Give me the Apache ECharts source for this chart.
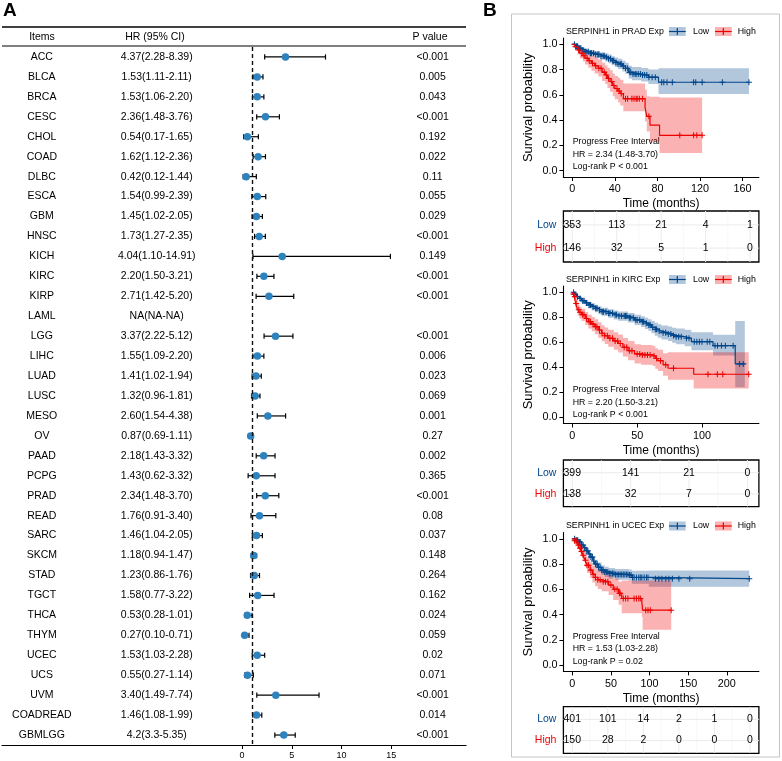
<!DOCTYPE html>
<html><head><meta charset="utf-8">
<script src="https://cdn.jsdelivr.net/npm/echarts@6/dist/echarts.min.js"></script>
<style>html,body{margin:0;padding:0;background:#fff}#c{width:782px;height:761px}</style>
</head><body><div id="c"></div>
<script>
// ---------------- Panel A data ----------------
const items = ['ACC','BLCA','BRCA','CESC','CHOL','COAD','DLBC','ESCA','GBM','HNSC','KICH','KIRC','KIRP','LAML','LGG','LIHC','LUAD','LUSC','MESO','OV','PAAD','PCPG','PRAD','READ','SARC','SKCM','STAD','TGCT','THCA','THYM','UCEC','UCS','UVM','COADREAD','GBMLGG'];
const hrText = ['4.37(2.28-8.39)','1.53(1.11-2.11)','1.53(1.06-2.20)','2.36(1.48-3.76)','0.54(0.17-1.65)','1.62(1.12-2.36)','0.42(0.12-1.44)','1.54(0.99-2.39)','1.45(1.02-2.05)','1.73(1.27-2.35)','4.04(1.10-14.91)','2.20(1.50-3.21)','2.71(1.42-5.20)','NA(NA-NA)','3.37(2.22-5.12)','1.55(1.09-2.20)','1.41(1.02-1.94)','1.32(0.96-1.81)','2.60(1.54-4.38)','0.87(0.69-1.11)','2.18(1.43-3.32)','1.43(0.62-3.32)','2.34(1.48-3.70)','1.76(0.91-3.40)','1.46(1.04-2.05)','1.18(0.94-1.47)','1.23(0.86-1.76)','1.58(0.77-3.22)','0.53(0.28-1.01)','0.27(0.10-0.71)','1.53(1.03-2.28)','0.55(0.27-1.14)','3.40(1.49-7.74)','1.46(1.08-1.99)','4.2(3.3-5.35)'];
const hr = [4.37,1.53,1.53,2.36,0.54,1.62,0.42,1.54,1.45,1.73,4.04,2.20,2.71,null,3.37,1.55,1.41,1.32,2.60,0.87,2.18,1.43,2.34,1.76,1.46,1.18,1.23,1.58,0.53,0.27,1.53,0.55,3.40,1.46,4.2];
const hrLow = [2.28,1.11,1.06,1.48,0.17,1.12,0.12,0.99,1.02,1.27,1.10,1.50,1.42,null,2.22,1.09,1.02,0.96,1.54,0.69,1.43,0.62,1.48,0.91,1.04,0.94,0.86,0.77,0.28,0.10,1.03,0.27,1.49,1.08,3.3];
const hrHigh = [8.39,2.11,2.20,3.76,1.65,2.36,1.44,2.39,2.05,2.35,14.91,3.21,5.20,null,5.12,2.20,1.94,1.81,4.38,1.11,3.32,3.32,3.70,3.40,2.05,1.47,1.76,3.22,1.01,0.71,2.28,1.14,7.74,1.99,5.35];
const pText = ['<0.001','0.005','0.043','<0.001','0.192','0.022','0.11','0.055','0.029','<0.001','0.149','<0.001','<0.001','','<0.001','0.006','0.023','0.069','0.001','0.27','0.002','0.365','<0.001','0.08','0.037','0.148','0.264','0.162','0.024','0.059','0.02','0.071','<0.001','0.014','<0.001'];
const forestTicks = [0,5,10,15];
const headers = ['Items','HR (95% CI)','P value'];

// ---------------- Panel B data: [time, survival, lower, upper] ----------------
const pradLow = [[0,1,1,1],[3,0.985,0.97,1],[6,0.968,0.95,0.985],[9,0.955,0.935,0.975],[12,0.942,0.92,0.965],[16,0.93,0.905,0.955],[21,0.92,0.893,0.948],[26,0.908,0.878,0.938],[31,0.897,0.865,0.93],[34,0.885,0.85,0.92],[37,0.87,0.835,0.905],[40,0.857,0.82,0.895],[43,0.844,0.805,0.885],[47,0.828,0.785,0.87],[50,0.81,0.765,0.855],[53,0.778,0.73,0.83],[56,0.765,0.715,0.82],[65,0.757,0.705,0.812],[71.5,0.74,0.685,0.80],[81,0.70,0.607,0.81],[166,0.70,0.607,0.81]];
const pradHigh = [[0,1,1,1],[2.5,0.98,0.955,1],[5,0.955,0.92,0.99],[7,0.93,0.89,0.97],[10,0.91,0.865,0.955],[12,0.89,0.84,0.94],[15,0.87,0.815,0.925],[18,0.85,0.79,0.91],[21,0.83,0.77,0.895],[24.5,0.81,0.745,0.88],[28,0.78,0.71,0.855],[31,0.757,0.685,0.835],[33,0.73,0.655,0.815],[35.5,0.705,0.625,0.795],[38,0.675,0.59,0.77],[40,0.65,0.565,0.75],[43,0.63,0.54,0.735],[45,0.61,0.515,0.72],[48,0.57,0.47,0.69],[68.4,0.50,0.39,0.64],[70,0.43,0.31,0.59],[73,0.36,0.23,0.585],[82,0.28,0.14,0.58],[122,0.28,0.14,0.58]];
const pradLowCens = [2,4,5,7,8,10,12,13,15,17,18,20,22,24,25,27,29,30,32,34,36,38,39,41,43,45,46,48,50,52,54,55,57,59,60,62,64,66,68,70,72,75,78,84,86,89,94,114,116,122,141,166];
const pradHighCens = [3,6,9,11,14,16,19,22,25,27,30,32,34,37,39,42,44,46,50,52,56,58,60,61,63,66,72,101,114,117,122];

const kircLow = [[0,1,1,1],[1.5,0.985,0.97,1],[3.3,0.965,0.945,0.98],[5,0.95,0.93,0.97],[7.2,0.933,0.91,0.955],[10,0.915,0.89,0.94],[12.3,0.899,0.87,0.925],[15,0.885,0.855,0.912],[17.4,0.872,0.84,0.9],[20,0.858,0.825,0.888],[22.6,0.845,0.812,0.876],[27.7,0.832,0.797,0.865],[32,0.82,0.783,0.855],[35.4,0.81,0.772,0.846],[43,0.797,0.758,0.835],[48,0.779,0.738,0.82],[53,0.765,0.722,0.808],[56,0.752,0.707,0.797],[58.5,0.739,0.692,0.785],[61,0.72,0.672,0.77],[63.6,0.704,0.653,0.757],[66,0.69,0.637,0.745],[68.7,0.677,0.622,0.734],[73.8,0.667,0.61,0.727],[77,0.655,0.596,0.717],[80,0.645,0.584,0.71],[86.7,0.632,0.569,0.70],[91.8,0.605,0.537,0.68],[108.5,0.573,0.495,0.66],[125.6,0.427,0.24,0.77],[133,0.427,0.24,0.77]];
const kircHigh = [[0,1,1,1],[0.8,0.985,0.96,1],[1.5,0.965,0.935,0.995],[2.6,0.91,0.87,0.95],[4.1,0.86,0.815,0.905],[5.5,0.84,0.79,0.885],[7.2,0.82,0.77,0.868],[10,0.79,0.738,0.842],[12.3,0.765,0.71,0.82],[15,0.745,0.688,0.802],[17.4,0.725,0.665,0.785],[20,0.698,0.637,0.76],[22.6,0.672,0.608,0.737],[25,0.652,0.586,0.718],[27.7,0.632,0.565,0.70],[32,0.61,0.54,0.68],[35.4,0.59,0.518,0.662],[39,0.56,0.486,0.635],[43,0.533,0.457,0.61],[48,0.507,0.43,0.585],[53,0.499,0.42,0.578],[62,0.49,0.41,0.57],[64,0.47,0.388,0.553],[66,0.453,0.37,0.54],[70,0.42,0.333,0.512],[73.8,0.392,0.30,0.52],[93.6,0.344,0.23,0.52],[136,0.344,0.23,0.52]];
const kircLowCens = [1,2,4,6,8,9,11,13,14,16,18,19,21,23,24,26,28,29,31,33,34,36,38,40,41,42,44,45,47,49,50,52,54,55,57,59,60,62,64,65,67,70,72,74,76,78,80,82,84,88,90,94,96,98,100,104,106,110,112,115,118,124,129,131.8];
const kircHighCens = [1,2,3,5,6,8,9,11,13,14,16,18,19,21,23,25,27,29,31,33,35,37,40,42,44,46,50,52,54,56,58,60,63,65,68,72,78,104.6,111.8,116,136];

const ucecLow = [[0,1,1,1],[4,0.99,0.98,1],[8,0.975,0.96,0.99],[12,0.95,0.93,0.97],[15,0.93,0.905,0.952],[18,0.905,0.878,0.93],[21,0.88,0.85,0.908],[24,0.855,0.823,0.885],[27,0.825,0.79,0.857],[29.5,0.80,0.765,0.835],[33,0.775,0.738,0.812],[38,0.752,0.713,0.79],[42,0.738,0.697,0.778],[47,0.726,0.685,0.768],[55.5,0.718,0.676,0.76],[73,0.713,0.67,0.756],[77,0.694,0.645,0.748],[99,0.684,0.62,0.75],[229,0.684,0.62,0.75]];
const ucecHigh = [[0,1,1,1],[3,0.985,0.96,1],[6,0.96,0.93,0.99],[7.8,0.95,0.915,0.985],[10,0.925,0.885,0.965],[12,0.9,0.855,0.945],[14,0.87,0.82,0.92],[16.5,0.83,0.775,0.885],[19,0.79,0.73,0.85],[23,0.752,0.69,0.815],[26,0.72,0.655,0.787],[29.5,0.694,0.625,0.765],[33,0.675,0.603,0.748],[38,0.66,0.585,0.735],[47,0.634,0.555,0.713],[53,0.60,0.515,0.685],[60,0.568,0.478,0.66],[64,0.528,0.41,0.67],[90,0.50,0.38,0.67],[91,0.435,0.28,0.67],[128,0.435,0.28,0.67]];
const ucecLowCens = [3,5,7,9,10,12,14,16,18,20,22,24,26,28,30,32,34,36,38,40,42,44,46,48,50,52,54,56,58,60,62,64,66,68,70,72,74,76,78,80,83,86,88,90,93,96,98,107.5,112,116,121,125,129.5,138,152,229];
const ucecHighCens = [3,5,8,10,12,14,17,19,21,24,27,30,33,36,40,43,46,50,55,58,61,62,66,69,72,80,83,86,88,95,98,101,128];

const kmTitles = ['SERPINH1 in PRAD Exp','SERPINH1 in KIRC Exp','SERPINH1 in UCEC Exp'];
const kmAnnot = [
  ['Progress Free Interval','HR = 2.34 (1.48-3.70)','Log-rank P < 0.001'],
  ['Progress Free Interval','HR = 2.20 (1.50-3.21)','Log-rank P < 0.001'],
  ['Progress Free Interval','HR = 1.53 (1.03-2.28)','Log-rank P = 0.02']];
const kmMaxTime = [167, 137, 230];
const pradTicks = [0,40,80,120,160];
const kircTicks = [0,50,100];
const ucecTicks = [0,50,100,150,200];
const survTicks = [0,0.2,0.4,0.6,0.8,1.0];
const groupNames = ['Low','High'];

const pradRiskTimes = [0,41.75,83.5,125.25,167];
const pradRiskLow = [353,113,21,4,1];
const pradRiskHigh = [146,32,5,1,0];
const kircRiskTimes = [0,45,90,135];
const kircRiskLow = [399,141,21,0];
const kircRiskHigh = [138,32,7,0];
const ucecRiskTimes = [0,46,92,138,184,230];
const ucecRiskLow = [401,101,14,2,1,0];
const ucecRiskHigh = [150,28,2,0,0,0];

// ---------------- build chart ----------------
const FONT = '"Liberation Sans", Arial, Helvetica, sans-serif';
const BLUE = '#00468B', RED = '#ED0000';
const BLUE_FILL = 'rgba(0,70,139,0.3)', RED_FILL = 'rgba(237,0,0,0.3)';
const DOT = '#2E82BE';

const chart = echarts.init(document.getElementById('c'));
const grids = [], xAxes = [], yAxes = [], series = [], graphics = [];

// ---- Panel A: forest ----
const FL = 2, FW = 464, FT = 47, FH = 698;
grids.push({left: FL, top: FT, width: FW, height: FH});
xAxes.push({type:'value', gridIndex:0, min:-24.1, max:22.5,
  axisLine:{show:true, onZero:false, lineStyle:{color:'#000', width:1.2}},
  axisTick:{show:true, customValues:forestTicks, length:4, lineStyle:{color:'#000', width:1}},
  axisLabel:{customValues:forestTicks, fontSize:9, color:'#000', fontFamily:FONT, margin:6},
  splitLine:{show:false}});
yAxes.push({type:'category', gridIndex:0, data:items, inverse:true, show:false});

function textColumn(xPos, arr) {
  return {type:'custom', xAxisIndex:0, yAxisIndex:0, silent:true, z:4,
    data: arr.map((_, i) => [xPos, i]),
    renderItem: (p, api) => {
      const c = api.coord([api.value(0), api.value(1)]);
      return {type:'text', x:c[0], y:c[1], style:{text: arr[p.dataIndex], align:'center', verticalAlign:'middle', fontSize:10.5, fontFamily:FONT, fill:'#000'}};
    }};
}
series.push(textColumn(-20.1, items));
series.push(textColumn(-8.56, hrText));
series.push(textColumn(19.15, pText));

const ebData = [], ptData = [];
items.forEach((it, i) => { if (hr[i] != null) { ebData.push([hrLow[i], hrHigh[i], i]); ptData.push([hr[i], i]); } });
series.push({type:'custom', xAxisIndex:0, yAxisIndex:0, z:2, silent:true, data: ebData,
  encode:{x:[0,1], y:2},
  renderItem: (p, api) => {
    const y = api.value(2);
    const a = api.coord([api.value(0), y]), b = api.coord([api.value(1), y]);
    const h = 2.6, st = {stroke:'#000', lineWidth:1.2};
    return {type:'group', children:[
      {type:'line', shape:{x1:a[0], y1:a[1], x2:b[0], y2:b[1]}, style:st},
      {type:'line', shape:{x1:a[0], y1:a[1]-h, x2:a[0], y2:a[1]+h}, style:st},
      {type:'line', shape:{x1:b[0], y1:b[1]-h, x2:b[0], y2:b[1]+h}, style:st}]};
  }});
series.push({type:'scatter', xAxisIndex:0, yAxisIndex:0, z:3, silent:true, data: ptData, symbolSize:7.5,
  itemStyle:{color:DOT, opacity:1},
  markLine:{silent:true, symbol:'none', label:{show:false}, animation:false,
    lineStyle:{type:[4,3], color:'#111', width:1.4}, data:[{xAxis:1}]}});

graphics.push({type:'text', left:3, top:1, style:{text:'A', fontSize:19, fontWeight:'bold', fontFamily:FONT, fill:'#000'}});
graphics.push({type:'line', shape:{x1:2, y1:27, x2:466, y2:27}, style:{stroke:'#000', lineWidth:1.3}});
graphics.push({type:'line', shape:{x1:2, y1:46, x2:466, y2:46}, style:{stroke:'#000', lineWidth:1}});
[[42, headers[0]], [155, headers[1]], [430, headers[2]]].forEach(([x, t]) => {
  graphics.push({type:'text', x:x, y:37, style:{text:t, align:'center', verticalAlign:'middle', fontSize:10.5, fontFamily:FONT, fill:'#000'}});
});

// ---- Panel B ----
graphics.push({type:'text', left:483, top:1, style:{text:'B', fontSize:19, fontWeight:'bold', fontFamily:FONT, fill:'#000'}});
graphics.push({type:'rect', shape:{x:511.5, y:14, width:268, height:743}, style:{fill:'none', stroke:'#c4c4c4', lineWidth:1}});

const PLEFT = 563.4, PW = 195.5;
const PLUS = 'path://M-0.17,-1 L0.17,-1 L0.17,-0.17 L1,-0.17 L1,0.17 L0.17,0.17 L0.17,1 L-0.17,1 L-0.17,0.17 L-1,0.17 L-1,-0.17 L-0.17,-0.17 Z';

function stepAt(rows, t) { let s = rows[0][1]; for (const r of rows) { if (r[0] <= t) s = r[1]; } return s; }

function bandSeries(g, rows, fill) {
  return {type:'custom', xAxisIndex:g, yAxisIndex:g, z:1, silent:true, data:[[0,0]], clip:true,
    renderItem: (p, api) => {
      const up = [], lo = [];
      for (let i = 0; i < rows.length - 1; i++) { up.push(api.coord([rows[i][0], rows[i][3]]), api.coord([rows[i+1][0], rows[i][3]])); }
      for (let i = rows.length - 2; i >= 0; i--) { lo.push(api.coord([rows[i+1][0], rows[i][2]]), api.coord([rows[i][0], rows[i][2]])); }
      return {type:'polygon', shape:{points: up.concat(lo)}, style:{fill: fill}};
    }};
}

function addKM(k, top, height, tTop, tHeight, ticks, low, high, lowC, highC, rTimes, rLow, rHigh) {
  const M = kmMaxTime[k];
  const g = grids.length;
  grids.push({left:PLEFT, top:top, width:PW, height:height});
  xAxes.push({type:'value', gridIndex:g, min:-0.05*M, max:1.05*M,
    axisLine:{show:true, onZero:false, lineStyle:{color:'#000', width:1.1}},
    axisTick:{show:true, customValues:ticks, length:4, lineStyle:{color:'#000'}},
    axisLabel:{customValues:ticks, fontSize:10.8, color:'#000', fontFamily:FONT, margin:7},
    splitLine:{show:false},
    name:'Time (months)', nameLocation:'middle', nameGap:21,
    nameTextStyle:{fontSize:12, color:'#000', fontFamily:FONT}});
  yAxes.push({type:'value', gridIndex:g, min:-0.05, max:1.05,
    axisLine:{show:true, onZero:false, lineStyle:{color:'#000', width:1.1}},
    axisTick:{show:true, customValues:survTicks, length:4, lineStyle:{color:'#000'}},
    axisLabel:{customValues:survTicks, formatter: v => v.toFixed(1), fontSize:10.8, color:'#000', fontFamily:FONT, margin:6},
    splitLine:{show:false},
    name:'Survival probability', nameLocation:'middle', nameGap:28, nameRotate:90,
    nameTextStyle:{fontSize:13, color:'#000', fontFamily:FONT}});
  series.push(bandSeries(g, low, BLUE_FILL));
  series.push(bandSeries(g, high, RED_FILL));
  [[low, BLUE, lowC], [high, RED, highC]].forEach(([rows, col, cens], j) => {
    series.push({type:'line', xAxisIndex:g, yAxisIndex:g, z:2+j, silent:true, step:'end', symbol:'none',
      data: rows.map(r => [r[0], r[1]]), lineStyle:{color:col, width:1.2}, animation:false});
    series.push({type:'scatter', xAxisIndex:g, yAxisIndex:g, z:2+j, silent:true, symbol:PLUS, symbolSize:6,
      data: cens.map(t => [t, stepAt(rows, t)]), itemStyle:{color:col, opacity:1}, animation:false});
  });
  // legend
  const ly = top - 6.5;
  graphics.push({type:'text', x:566, y:ly, style:{text:kmTitles[k], align:'left', verticalAlign:'middle', fontSize:8.8, fontFamily:FONT, fill:'#000'}});
  [[669, BLUE, BLUE_FILL, 693, groupNames[0]], [715, RED, RED_FILL, 737.7, groupNames[1]]].forEach(([kx, col, fill, tx, nm]) => {
    graphics.push({type:'rect', shape:{x:kx, y:ly-4.5, width:16.7, height:9}, style:{fill:fill}});
    graphics.push({type:'line', shape:{x1:kx, y1:ly, x2:kx+16.7, y2:ly}, style:{stroke:col, lineWidth:1.2}});
    graphics.push({type:'line', shape:{x1:kx+8.35, y1:ly-3.5, x2:kx+8.35, y2:ly+3.5}, style:{stroke:col, lineWidth:1.2}});
    graphics.push({type:'text', x:tx, y:ly, style:{text:nm, align:'left', verticalAlign:'middle', fontSize:8.8, fontFamily:FONT, fill:'#000'}});
  });
  // annotation
  [104, 116.5, 129].forEach((dy, i) => {
    graphics.push({type:'text', x:572.7, y:top+dy, style:{text:kmAnnot[k][i], align:'left', verticalAlign:'middle', fontSize:8.8, fontFamily:FONT, fill:'#000'}});
  });
  // risk table
  const tg = grids.length;
  grids.push({left:PLEFT, top:tTop, width:PW, height:tHeight, show:true, borderColor:'#000', borderWidth:1.3, backgroundColor:'transparent'});
  xAxes.push({type:'value', gridIndex:tg, min:-0.05*M, max:1.05*M, axisLine:{show:false}, axisTick:{show:false}, axisLabel:{show:false}, splitLine:{show:false}});
  yAxes.push({type:'value', gridIndex:tg, min:0.4, max:2.6, inverse:true,
    axisLine:{show:false},
    axisTick:{show:true, customValues:[1,2], length:4, lineStyle:{color:'#000'}},
    axisLabel:{customValues:[1,2], margin:7, fontSize:10.5, fontFamily:FONT,
      formatter: v => v === 1 ? '{l|' + groupNames[0] + '}' : '{h|' + groupNames[1] + '}',
      rich:{l:{color:BLUE, fontSize:10.5, fontFamily:FONT}, h:{color:RED, fontSize:10.5, fontFamily:FONT}}},
    splitLine:{show:false}});
  // faint panel grid lines (major at risk times and rows, minor between)
  series.push({type:'custom', xAxisIndex:tg, yAxisIndex:tg, z:1, silent:true, data:[[0,1]], clip:true,
    renderItem: (p, api) => {
      const ch = [];
      const y0 = api.coord([0, 0.4])[1], y1 = api.coord([0, 2.6])[1];
      const x0 = api.coord([-0.05*M, 1])[0], x1 = api.coord([1.05*M, 1])[0];
      rTimes.forEach((t, i) => {
        const x = api.coord([t, 1])[0];
        ch.push({type:'line', shape:{x1:x, y1:y0, x2:x, y2:y1}, style:{stroke:'#ebebeb', lineWidth:1}});
        if (i < rTimes.length - 1) {
          const xm = api.coord([(t + rTimes[i+1]) / 2, 1])[0];
          ch.push({type:'line', shape:{x1:xm, y1:y0, x2:xm, y2:y1}, style:{stroke:'#f2f2f2', lineWidth:0.6}});
        }
      });
      [1, 2].forEach(r => { const y = api.coord([0, r])[1]; ch.push({type:'line', shape:{x1:x0, y1:y, x2:x1, y2:y}, style:{stroke:'#ebebeb', lineWidth:1}}); });
      return {type:'group', children:ch};
    }});
  const rData = [];
  rTimes.forEach((t, i) => { rData.push([t, 1, rLow[i]]); rData.push([t, 2, rHigh[i]]); });
  series.push({type:'custom', xAxisIndex:tg, yAxisIndex:tg, z:3, silent:true, data:rData,
    renderItem: (p, api) => {
      const c = api.coord([api.value(0), api.value(1)]);
      return {type:'text', x:c[0], y:c[1], style:{text:String(api.value(2)), align:'center', verticalAlign:'middle', fontSize:10.5, fontFamily:FONT, fill:'#000'}};
    }});
}

addKM(0, 38, 139, 211, 51, pradTicks, pradLow, pradHigh, pradLowCens, pradHighCens, pradRiskTimes, pradRiskLow, pradRiskHigh);
addKM(1, 286, 137.5, 460, 46.7, kircTicks, kircLow, kircHigh, kircLowCens, kircHighCens, kircRiskTimes, kircRiskLow, kircRiskHigh);
addKM(2, 532.5, 138.9, 706.7, 46.6, ucecTicks, ucecLow, ucecHigh, ucecLowCens, ucecHighCens, ucecRiskTimes, ucecRiskLow, ucecRiskHigh);

chart.setOption({animation:false, backgroundColor:'#fff', grid:grids, xAxis:xAxes, yAxis:yAxes, series:series, graphic:graphics});
</script>
</body></html>
